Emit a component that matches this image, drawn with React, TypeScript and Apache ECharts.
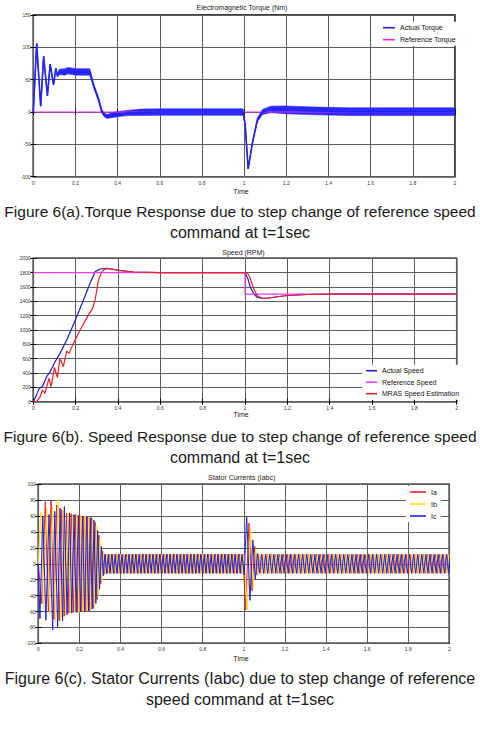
import { useEffect, useRef } from "react";
import * as echarts from "echarts";

// ---- Shared time axis (s) ----
const TIME_MIN = 0;
const TIME_MAX = 2;
const TIME_STEP = 0.2;

// ---- Electromagnetic torque (Nm) ----
const torqueRange = [-100, 150, 50];
const torqueTime = [
  0, 0.016, 0.035, 0.049, 0.067, 0.08, 0.096, 0.107, 0.115, 0.122, 0.15, 0.165, 0.2, 0.25, 0.268,
  0.287, 0.31, 0.324, 0.335, 0.35, 0.383, 0.446, 0.51, 0.6, 0.8, 0.995, 1.005, 1.019, 1.039, 1.063,
  1.087, 1.126, 1.19, 1.3, 1.5, 2.0,
];
const torqueMean = [
  0, 106, 9, 86, 25, 74, 42, 68, 55, 62, 62, 64, 62, 62, 62,
  40, 19, 2, -4, -7, -4, -1.5, -0.5, 0, 0, 0, -20, -88, -48, -12,
  0, 4, 3.5, 2, 0.5, 0.5,
];
// half width of the switching ripple around the mean torque
const torqueRipple = [
  0, 0, 0, 0, 0, 0, 0, 0, 0, 4, 5, 5, 5, 5, 5,
  3, 3, 3, 3, 3, 4, 4, 5, 5, 5, 5, 2, 0, 1, 3,
  4, 5, 6, 6, 6, 6,
];
const referenceTorque: [number, number][] = [
  [0, 0],
  [2, 0],
];

// ---- Rotor speed (RPM) ----
const speedRange = [0, 2000, 200];
const actualSpeed: [number, number][] = [
  [0, 0], [0.015, 95], [0.028, 186], [0.044, 215], [0.063, 349], [0.08, 420], [0.103, 558],
  [0.126, 674], [0.158, 860], [0.202, 1163], [0.237, 1419], [0.268, 1651], [0.292, 1814],
  [0.316, 1851], [0.348, 1860], [0.395, 1837], [0.474, 1809], [0.6, 1800], [1.0, 1800],
  [1.013, 1719], [1.025, 1600], [1.041, 1505], [1.057, 1457], [1.08, 1443], [1.104, 1443],
  [1.136, 1457], [1.2, 1481], [1.293, 1495], [1.4, 1500], [2.0, 1500],
];
const referenceSpeed: [number, number][] = [
  [0, 1800], [1.0, 1800], [1.0, 1500], [2.0, 1500],
];
const mrasSpeed: [number, number][] = [
  [0, 0], [0.016, 0], [0.032, 70], [0.044, 163], [0.055, 116], [0.074, 326], [0.084, 209],
  [0.1, 479], [0.114, 335], [0.126, 605], [0.142, 488], [0.158, 707], [0.169, 674], [0.186, 791],
  [0.221, 1000], [0.256, 1186], [0.28, 1302], [0.292, 1419], [0.308, 1698], [0.324, 1814],
  [0.344, 1860], [0.371, 1851], [0.41, 1828], [0.474, 1809], [0.6, 1800], [1.0, 1800],
  [1.013, 1790], [1.025, 1719], [1.041, 1576], [1.057, 1481], [1.08, 1443], [1.104, 1443],
  [1.136, 1457], [1.2, 1481], [1.293, 1495], [1.4, 1500], [2.0, 1500],
];

// ---- Stator currents (A): turning points of each phase ----
const currentRange = [-100, 100, 20];
const iaStartup: [number, number][] = [
  [0, 0], [0.017, -50], [0.034, 78], [0.049, -60], [0.062, 80], [0.076, -70], [0.089, 74],
  [0.102, -72], [0.114, 68], [0.126, -66], [0.138, 64], [0.149, -62], [0.16, 63], [0.171, -61],
  [0.182, 62], [0.192, -61], [0.202, 61], [0.212, -60], [0.222, 60], [0.232, -60], [0.241, 59],
  [0.25, -59], [0.259, 58], [0.268, -56], [0.277, 52], [0.286, -45], [0.295, 36], [0.304, -25],
  [0.313, 16], [0.321, -13], [0.329, 12],
];
const ibStartup: [number, number][] = [
  [0, 0], [0.012, 65], [0.026, -58], [0.041, 70], [0.055, -64], [0.069, 72], [0.083, -74],
  [0.097, 82], [0.11, -70], [0.122, 68], [0.134, -65], [0.145, 64], [0.156, -62], [0.167, 62],
  [0.178, -61], [0.188, 61], [0.198, -61], [0.208, 60], [0.218, -60], [0.228, 60], [0.237, -59],
  [0.246, 59], [0.255, -58], [0.264, 57], [0.273, -54], [0.282, 48], [0.291, -40], [0.3, 30],
  [0.309, -20], [0.318, 14], [0.326, -12], [0.334, 12],
];
const icStartup: [number, number][] = [
  [0, 0], [0.008, -69], [0.022, 60], [0.037, -71], [0.052, 62], [0.07, -83], [0.08, 66],
  [0.094, -80], [0.106, 70], [0.118, -72], [0.127, 72], [0.14, -64], [0.152, 64], [0.163, -62],
  [0.174, 62], [0.184, -61], [0.195, 61], [0.205, -60], [0.215, 60], [0.225, -60], [0.235, 59],
  [0.244, -59], [0.253, 58], [0.262, -57], [0.271, 55], [0.28, -50], [0.289, 42], [0.298, -32],
  [0.307, 22], [0.316, -15], [0.324, 12],
];
// steady 60 Hz running at 1800 RPM, one value per half cycle
const steady60 = [
  -12, 12, -12, 12, -12, 12, -12, 12, -12, 12,
  -12, 12, -12, 12, -12, 12, -12, 12, -12, 12,
  -12, 12, -12, 12, -12, 12, -12, 12, -12, 12,
  -12, 12, -12, 12, -12, 12, -12, 12, -12, 12,
  -12, 12, -12, 12, -12, 12, -12, 12, -12, 12,
  -12, 12, -12, 12, -12, 12, -12, 12, -12, 12,
  -12, 12, -12, 12, -12, 12, -12, 12, -12, 12,
  -12, 12, -12, 12, -12, 12, -12, 12, -12, 12,
];
// speed step transient at t = 1 s
const iaStep: [number, number][] = [
  [1.009, -58], [1.025, 51], [1.04, -34], [1.053, 22], [1.064, -14], [1.074, 12],
];
const ibStep: [number, number][] = [
  [1.017, -58], [1.032, 45], [1.046, -30], [1.058, 18], [1.068, -13], [1.078, 12],
];
const icStep: [number, number][] = [
  [1.002, -14], [1.014, 60], [1.03, -46], [1.044, 30], [1.056, -20], [1.066, 13], [1.076, -12],
  [1.086, 12],
];
// steady 50 Hz running at 1500 RPM, one value per half cycle
const steady50 = [
  -12, 12, -12, 12, -12, 12, -12, 12, -12, 12,
  -12, 12, -12, 12, -12, 12, -12, 12, -12, 12,
  -12, 12, -12, 12, -12, 12, -12, 12, -12, 12,
  -12, 12, -12, 12, -12, 12, -12, 12, -12, 12,
  -12, 12, -12, 12, -12, 12, -12, 12, -12, 12,
  -12, 12, -12, 12, -12, 12, -12, 12, -12, 12,
  -12, 12, -12, 12, -12, 12, -12, 12, -12, 12,
  -12, 12, -12, 12, -12, 12, -12, 12, -12, 12,
  -12, 12, -12, 12, -12, 12, -12, 12, -12, 12,
  -12, 12,
];
const HALF_CYCLE_60 = 1 / 120;
const HALF_CYCLE_50 = 1 / 100;
// start time of the 60 Hz and 50 Hz runs for phases a, b, c
const run60Start = [0.3373, 0.3423, 0.3323];
const run50Start = [1.084, 1.088, 1.096];

function buildPhase(
  startup: [number, number][],
  start60: number,
  step: [number, number][],
  start50: number
): [number, number][] {
  return [
    ...startup,
    ...steady60.map((v, k): [number, number] => [start60 + k * HALF_CYCLE_60, v]),
    ...step,
    ...steady50.map((v, k): [number, number] => [start50 + k * HALF_CYCLE_50, v]),
  ];
}

const NARROW = "'Liberation Sans Narrow', 'Liberation Sans', Arial, sans-serif";
const SANS = "'Liberation Sans', Arial, sans-serif";

const grids = [
  { left: 33.3, top: 15, width: 421.7, height: 161.7 },
  { left: 33.3, top: 258.3, width: 423.4, height: 143.4 },
  { left: 38.3, top: 484.3, width: 411, height: 159 },
];
const ranges = [torqueRange, speedRange, currentRange];

function text(x: number, y: number, s: string, size: number, family: string, color = "#222") {
  return {
    type: "text",
    x,
    y,
    style: {
      text: s,
      fill: color,
      fontSize: size,
      fontFamily: family,
      align: "center",
      verticalAlign: "middle",
      textAlign: "center",
      textVerticalAlign: "middle",
    },
  };
}

function legendAt(left: number, top: number, names: string[], itemWidth: number, gap: number) {
  return {
    data: names,
    orient: "vertical",
    left,
    top,
    icon: "rect",
    itemWidth,
    itemHeight: 1.6,
    itemGap: gap,
    padding: [2, 4, 2, 4],
    backgroundColor: "#fff",
    selectedMode: false,
    textStyle: { fontSize: 7, lineHeight: 8, fontFamily: NARROW, color: "#111" },
  };
}

function line(name: string, gi: number, data: [number, number][], color: string, width: number) {
  return {
    type: "line",
    name,
    xAxisIndex: gi,
    yAxisIndex: gi,
    data,
    symbol: "none",
    showSymbol: false,
    color,
    lineStyle: { color, width },
  };
}

export default function App() {
  const ref = useRef<HTMLDivElement>(null);

  useEffect(() => {
    if (!ref.current) return;
    const chart = echarts.init(ref.current, undefined, { renderer: "svg" });

    const tickStyle = { show: true, inside: true, length: 3, lineStyle: { color: "#000" } };
    const gridLine = { show: true, lineStyle: { color: "#5c5c5c", width: 1 } };
    const labelStyle = { fontSize: 5, fontFamily: NARROW, color: "#333" };

    const bottomX = grids.map((_, i) => ({
      type: "value",
      gridIndex: i,
      min: TIME_MIN,
      max: TIME_MAX,
      interval: TIME_STEP,
      axisLine: { show: false },
      axisTick: tickStyle,
      splitLine: gridLine,
      axisLabel: { ...labelStyle, margin: 3.5, formatter: (v: number) => String(+v.toFixed(1)) },
    }));
    const topX = grids.map((_, i) => ({
      type: "value",
      gridIndex: i,
      position: "top",
      min: TIME_MIN,
      max: TIME_MAX,
      interval: TIME_STEP,
      axisLine: { show: false },
      axisTick: tickStyle,
      splitLine: { show: false },
      axisLabel: { show: false },
    }));
    const leftY = grids.map((_, i) => ({
      type: "value",
      gridIndex: i,
      min: ranges[i][0],
      max: ranges[i][1],
      interval: ranges[i][2],
      axisLine: { show: false },
      axisTick: tickStyle,
      splitLine: gridLine,
      axisLabel: { ...labelStyle, margin: 2.5, formatter: (v: number) => String(v) },
    }));
    const rightY = grids.map((_, i) => ({
      type: "value",
      gridIndex: i,
      position: "right",
      min: ranges[i][0],
      max: ranges[i][1],
      interval: ranges[i][2],
      axisLine: { show: false },
      axisTick: tickStyle,
      splitLine: { show: false },
      axisLabel: { show: false },
    }));

    const torqueLine = torqueTime.map((t, i): [number, number] => [t, torqueMean[i]]);

    const option = {
      animation: false,
      backgroundColor: "#fff",
      grid: grids.map((g) => ({
        ...g,
        show: true,
        borderColor: "#000",
        borderWidth: 1.5,
        backgroundColor: "#fff",
        containLabel: false,
      })),
      xAxis: [...bottomX, ...topX],
      yAxis: [...leftY, ...rightY],
      legend: [
        legendAt(379, 21.7, ["Actual Torque", "Reference Torque"], 12, 4),
        legendAt(362, 364.7, ["Actual Speed", "Reference Speed", "MRAS Speed Estimation"], 11, 3.5),
        legendAt(406, 486, ["Ia", "Ib", "Ic"], 16, 4),
      ],
      graphic: [
        text(242, 7.3, "Electromagnetic Torque (Nm)", 7, NARROW),
        text(241, 191.7, "Time", 7, NARROW),
        text(240, 211, "Figure 6(a).Torque Response due to step change of reference speed", 15.5, SANS, "#1a1a1a"),
        text(240, 232.5, "command at t=1sec", 16, SANS, "#1a1a1a"),
        text(243.5, 252.7, "Speed (RPM)", 7, NARROW),
        text(241, 414.3, "Time", 7, NARROW),
        text(240, 436.5, "Figure 6(b). Speed Response due to step change of reference speed", 15.5, SANS, "#1a1a1a"),
        text(240, 457, "command at t=1sec", 16, SANS, "#1a1a1a"),
        text(241.7, 477, "Stator Currents (Iabc)", 7, NARROW),
        text(241, 658.3, "Time", 7, NARROW),
        text(240, 678, "Figure 6(c). Stator Currents (Iabc) due to step change of reference", 16, SANS, "#1a1a1a"),
        text(240, 699, "speed command at t=1sec", 16, SANS, "#1a1a1a"),
      ],
      series: [
        line("Reference Torque", 0, referenceTorque, "#e22de2", 1.2),
        {
          // ripple envelope of the actual torque, filled between lower and upper bounds
          type: "custom",
          name: "torque ripple",
          xAxisIndex: 0,
          yAxisIndex: 0,
          silent: true,
          data: [[0, 0]],
          renderItem: (_params: any, api: any) => {
            const upper = torqueTime.map((t, i) => api.coord([t, torqueMean[i] + torqueRipple[i]]));
            const lower = torqueTime
              .map((t, i) => api.coord([t, torqueMean[i] - torqueRipple[i]]))
              .reverse();
            return {
              type: "polygon",
              shape: { points: [...upper, ...lower] },
              style: { fill: "#2a2aff", stroke: "#2a2aff", lineWidth: 0.6 },
            };
          },
        },
        line("Actual Torque", 0, torqueLine, "#2323f5", 1.6),
        line("Actual Speed", 1, actualSpeed, "#1c1cc8", 1.2),
        line("Reference Speed", 1, referenceSpeed, "#f03cf0", 1.2),
        line("MRAS Speed Estimation", 1, mrasSpeed, "#e8202a", 1.2),
        line("Ia", 2, buildPhase(iaStartup, run60Start[0], iaStep, run50Start[0]), "#e3242b", 1),
        line("Ib", 2, buildPhase(ibStartup, run60Start[1], ibStep, run50Start[1]), "#ffe020", 1),
        line("Ic", 2, buildPhase(icStartup, run60Start[2], icStep, run50Start[2]), "#1f1fe8", 1),
      ],
    };

    chart.setOption(option as any);
    return () => chart.dispose();
  }, []);

  return (
    <div
      ref={ref}
      style={{ position: "fixed", left: 0, top: 0, width: 480, height: 736, background: "#fff" }}
    />
  );
}
